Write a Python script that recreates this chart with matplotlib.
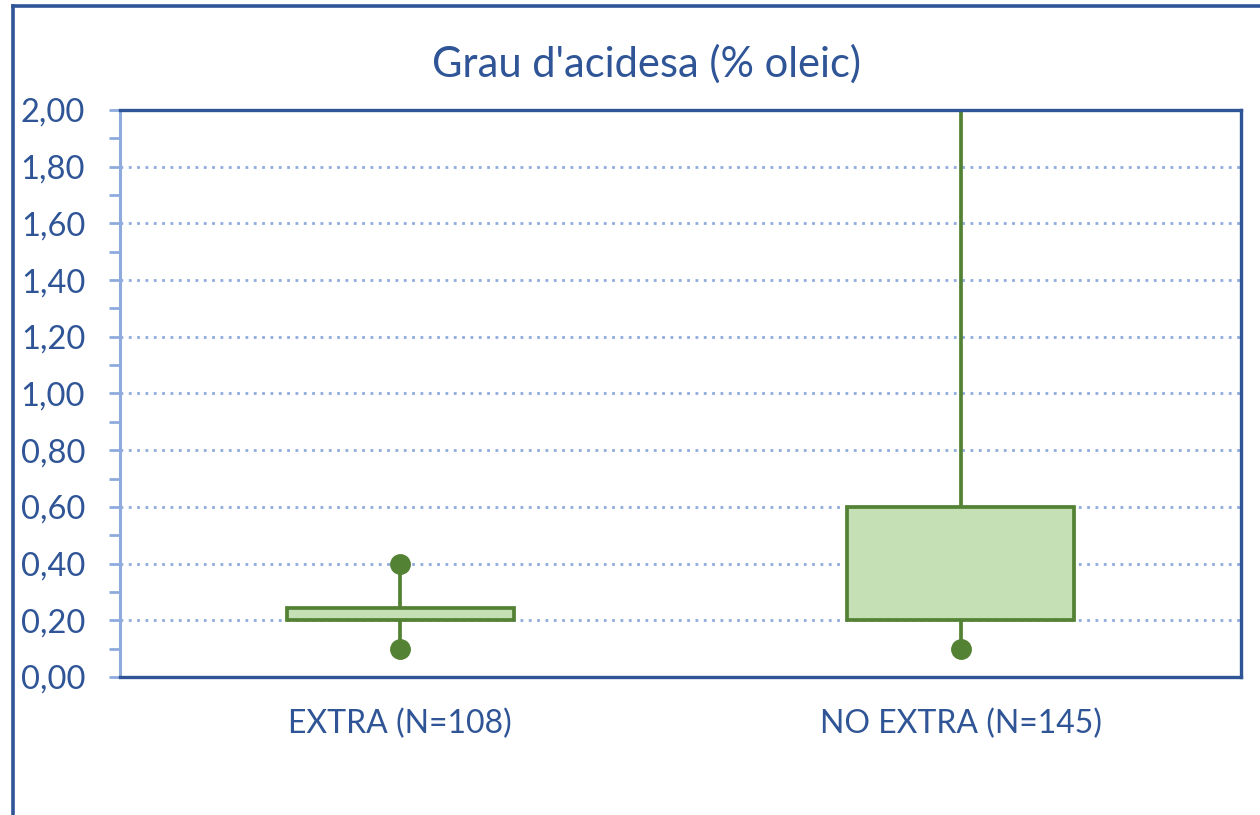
import matplotlib
matplotlib.use("Agg")
import matplotlib.pyplot as plt
from matplotlib.lines import Line2D
from matplotlib.ticker import MultipleLocator, FuncFormatter

categories = ["EXTRA (N=108)", "NO EXTRA (N=145)"]
q1 = [0.20, 0.20]
q3 = [0.245, 0.60]
whisk_low = [0.10, 0.10]
whisk_high = [0.40, 2.50]
title = "Grau d'acidesa (% oleic)"

DARK = "#2F5597"
LIGHT = "#8FAADC"
GREEN = "#548235"
FILL = "#C5E0B4"
TXT = "#2F5597"

plt.rcParams['font.family'] = ['Lato', 'DejaVu Sans']

fig = plt.figure(figsize=(12.6, 8.15), dpi=100)
ax = fig.add_axes([120/1260, 1-677/815, (1241-120)/1260, (677-110)/815])

x = list(range(len(categories)))
heights = [b - a for a, b in zip(q1, q3)]
ax.bar(x, heights, bottom=q1, width=0.405, color=FILL, edgecolor=GREEN,
       linewidth=2.7, zorder=3)
for xi, lo, hi, a, b in zip(x, whisk_low, whisk_high, q1, q3):
    ax.plot([xi, xi], [b, hi], color=GREEN, lw=2.7, zorder=2, solid_capstyle='butt')
    ax.plot([xi, xi], [lo, a], color=GREEN, lw=2.7, zorder=2, solid_capstyle='butt')
    ax.plot([xi, xi], [lo, hi], 'o', color=GREEN, ms=14, zorder=4)

ax.set_xlim(-0.5, 1.5)
ax.set_ylim(0, 2.0)
ax.yaxis.set_major_locator(MultipleLocator(0.2))
ax.yaxis.set_minor_locator(MultipleLocator(0.1))
ax.yaxis.set_major_formatter(FuncFormatter(lambda v, p: f"{v:.2f}".replace('.', ',')))
ax.set_xticks(x)
ax.set_xticklabels(categories)
ax.tick_params(axis='x', length=0, pad=23, labelsize=23, labelcolor=TXT)
ax.tick_params(axis='y', which='both', length=8, width=2, color=LIGHT,
               labelsize=23.5, labelcolor=TXT, pad=17)
ax.grid(axis='y', which='major', linestyle=(0, (1, 2)), color=LIGHT, lw=2, zorder=1)
ax.set_axisbelow(True)

for s in ['top', 'right', 'bottom']:
    ax.spines[s].set_color(DARK)
    ax.spines[s].set_linewidth(2.4)
ax.spines['left'].set_color(LIGHT)
ax.spines['left'].set_linewidth(2.2)
ax.spines['bottom'].set_zorder(5)

fig.text(646/1260, 1-64/815, title, ha='center', va='center', fontsize=30, color=TXT)

fig.add_artist(Line2D([13/1260, 1], [1-6/815, 1-6/815], color=DARK, lw=2.6, transform=fig.transFigure))
fig.add_artist(Line2D([13/1260, 13/1260], [0, 1-6/815], color=DARK, lw=2.6, transform=fig.transFigure))

fig.savefig("out.png", dpi=100)
